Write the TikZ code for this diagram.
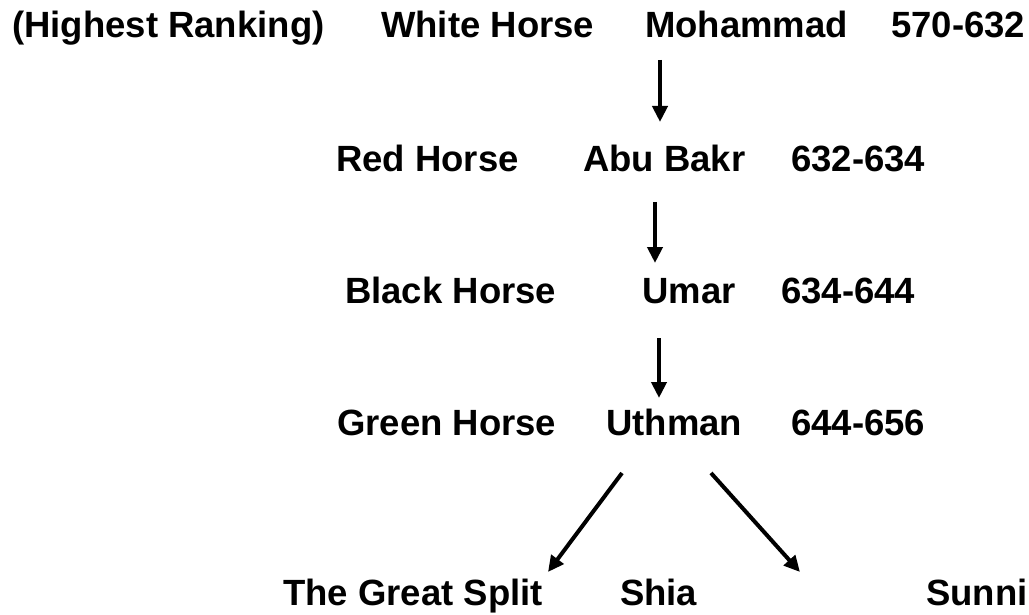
\documentclass[tikz,border=0pt]{standalone}
\usepackage{fontspec}
\setmainfont{Liberation Sans}
\usetikzlibrary{arrows.meta}

\tikzset{
	lbl/.style = {anchor = base west, inner sep = 0, font = \fontsize{36.5}{40}\selectfont\bfseries},
	arr/.style = {-{Triangle[length = 16pt, width = 15pt]}, line width = 4pt}
}

\begin{document}
\begin{tikzpicture}[x = 1pt, y = -1pt]
					\useasboundingbox (0, 0) rectangle (1029, 615);

					\node [lbl] (rank) at (12, 38) {(Highest Ranking)};
					\node [lbl] (h1) at (381, 38) {White Horse};
					\node [lbl] (p1) at (645, 38) {Mohammad};
					\node [lbl] (y1) at (891, 38) {570-632};

					\node [lbl] (h2) at (336, 172) {Red Horse};
					\node [lbl] (p2) at (583, 172) {Abu Bakr};
					\node [lbl] (y2) at (791, 172) {632-634};

					\node [lbl] (h3) at (345, 303) {Black Horse};
					\node [lbl] (p3) at (642, 303) {Umar};
					\node [lbl] (y3) at (781, 303) {634-644};

					\node [lbl] (h4) at (337, 435) {Green Horse};
					\node [lbl] (p4) at (606, 435) {Uthman};
					\node [lbl] (y4) at (791, 435) {644-656};

					\node [lbl] (split) at (283, 605) {The Great Split};
					\node [lbl] (shia) at (620, 605) {Shia};
					\node [lbl] (sunni) at (926, 605) {Sunni};

					\coordinate (a1) at (660, 60);
					\coordinate (b1) at (660, 122);
					\coordinate (a2) at (655, 202);
					\coordinate (b2) at (655, 263);
					\coordinate (a3) at (659, 338);
					\coordinate (b3) at (659, 398);
					\coordinate (a4) at (622, 473);
					\coordinate (b4) at (548, 572);
					\coordinate (a5) at (711, 473);
					\coordinate (b5) at (800, 572);

					\draw [arr] (a1) to (b1);
					\draw [arr] (a2) to (b2);
					\draw [arr] (a3) to (b3);
					\draw [arr] (a4) to (b4);
					\draw [arr] (a5) to (b5);
				\end{tikzpicture}
\end{document}
